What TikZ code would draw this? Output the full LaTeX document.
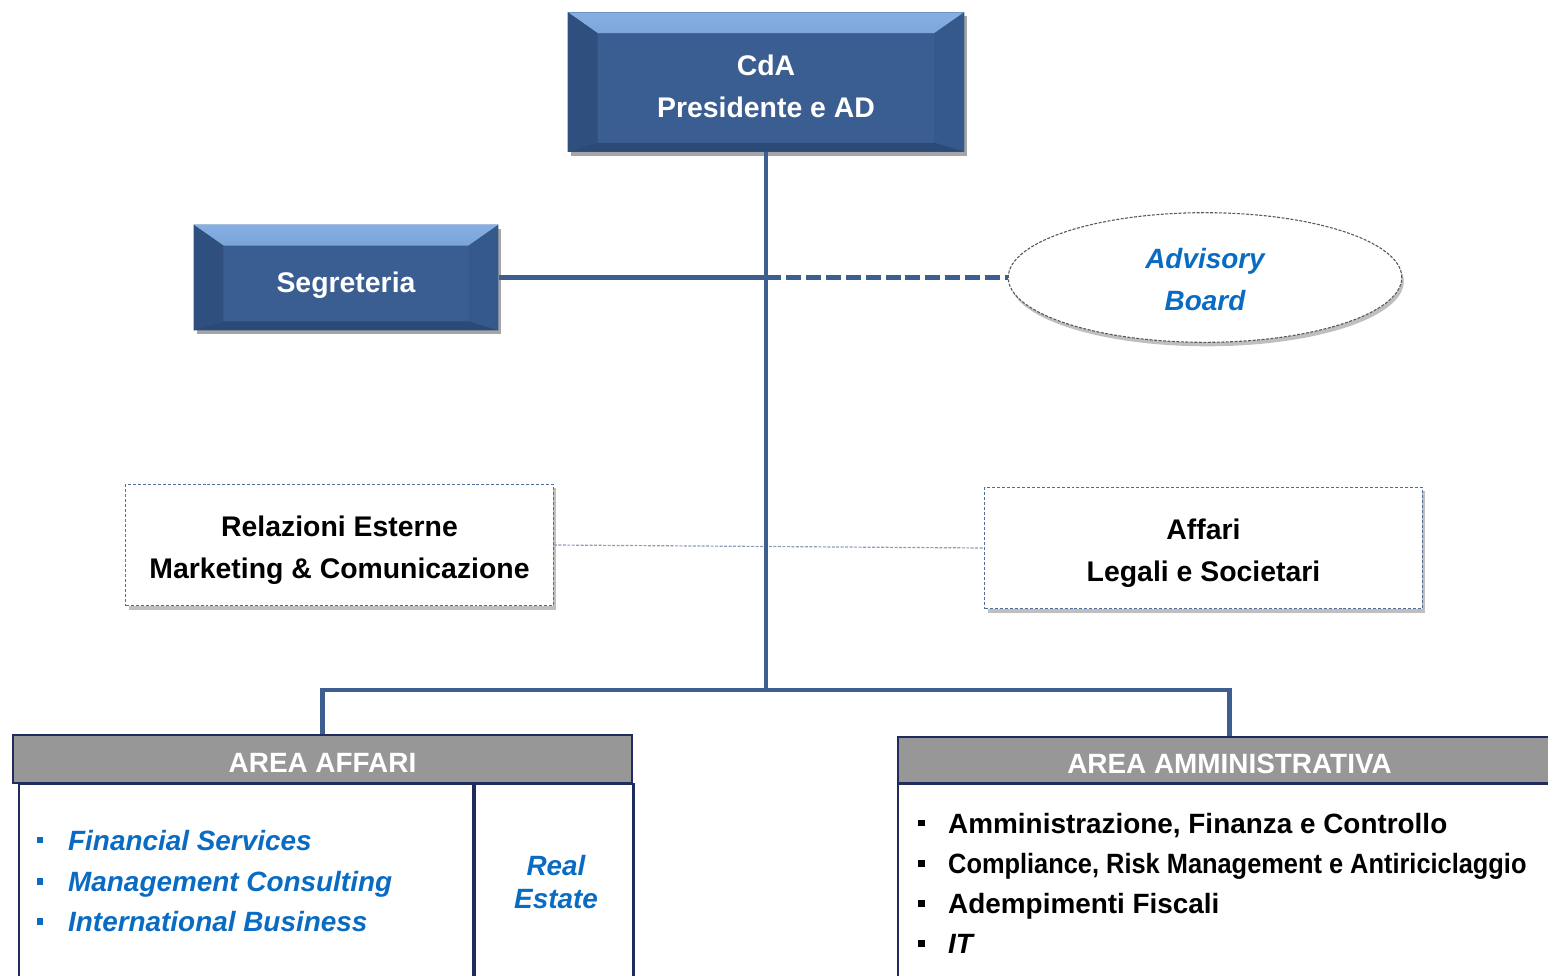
\documentclass[tikz,border=0pt]{standalone}
\usepackage{fontspec}
\setmainfont{Liberation Sans}
\usetikzlibrary{shadows,shapes.geometric}

\definecolor{bmain}{HTML}{3B5E92}
\definecolor{btop}{HTML}{86B0E4}
\definecolor{btop2}{HTML}{4C73A9}
\definecolor{bleft}{HTML}{2F4F7F}
\definecolor{bright}{HTML}{35598B}
\definecolor{bbot}{HTML}{2C4A77}
\definecolor{linec}{HTML}{3D5F90}
\definecolor{navy}{HTML}{1F2D5E}
\definecolor{hgray}{HTML}{979797}
\definecolor{tblue}{HTML}{0A6BC2}
\definecolor{dashc}{HTML}{4F6E9C}
\definecolor{thinc}{HTML}{8C9CB9}

% two centred lines; extra height #1 pushes the text down by #1/2
\newcommand{\twolines}[3]{\raisebox{0pt}[\dimexpr\height+#1\relax][\depth]{\begin{tabular}{@{}c@{}}#2\\#3\end{tabular}}}

\tikzset{
  bevel/.style={rectangle, inner sep=0pt, fill=bmain, text=white,
    font=\bfseries\fontsize{28.5}{42}\selectfont,
    drop shadow={shadow xshift=3pt, shadow yshift=-4pt, opacity=0.35, fill=black},
    path picture={
      \fill[top color=btop, bottom color=btop2]
        (path picture bounding box.north west) -- (path picture bounding box.north east)
        -- ([xshift=-30pt,yshift=-21pt]path picture bounding box.north east)
        -- ([xshift=30pt,yshift=-21pt]path picture bounding box.north west) -- cycle;
      \fill[bleft]
        (path picture bounding box.north west)
        -- ([xshift=30pt,yshift=-21pt]path picture bounding box.north west)
        -- ([xshift=30pt,yshift=9pt]path picture bounding box.south west)
        -- (path picture bounding box.south west) -- cycle;
      \fill[bright]
        (path picture bounding box.north east)
        -- ([xshift=-30pt,yshift=-21pt]path picture bounding box.north east)
        -- ([xshift=-30pt,yshift=9pt]path picture bounding box.south east)
        -- (path picture bounding box.south east) -- cycle;
      \fill[bbot]
        (path picture bounding box.south west)
        -- ([xshift=30pt,yshift=9pt]path picture bounding box.south west)
        -- ([xshift=-30pt,yshift=9pt]path picture bounding box.south east)
        -- (path picture bounding box.south east) -- cycle;
    }},
  dbox/.style={rectangle, draw=dashc, line width=1.2pt, dash pattern=on 3pt off 2pt,
    fill=white, inner sep=0pt,
    font=\bfseries\fontsize{28.5}{42}\selectfont,
    drop shadow={shadow xshift=3pt, shadow yshift=-4pt, opacity=0.25, fill=black}},
  advbox/.style={ellipse, draw=black!65, line width=1.1pt, dash pattern=on 3pt off 1.5pt,
    fill=white, inner sep=0pt, text=tblue,
    font=\bfseries\itshape\fontsize{28}{42}\selectfont,
    drop shadow={shadow xshift=2pt, shadow yshift=-4pt, opacity=0.25, fill=black}},
  mainline/.style={draw=linec, line width=4.8pt},
  dline/.style={draw=linec, line width=4.8pt, dash pattern=on 15pt off 5pt},
  thinline/.style={draw=thinc, line width=1.2pt, dash pattern=on 3pt off 1.5pt},
  areahead/.style={rectangle, fill=hgray, draw=navy, line width=2.2pt, inner sep=0pt,
    text=white, font=\bfseries\fontsize{28}{30}\selectfont, text depth=0pt, text height=28pt},
  areabody/.style={rectangle, draw=navy, line width=2.2pt, inner sep=0pt, anchor=north west},
  bitem/.style={anchor=base west, inner sep=0pt, text=tblue, font=\bfseries\itshape\fontsize{28}{30}\selectfont},
  kitem/.style={anchor=base west, inner sep=0pt, text=black, font=\bfseries\fontsize{28}{30}\selectfont},
  bbul/.style={rectangle, fill=tblue, minimum size=7pt, inner sep=0pt},
  kbul/.style={rectangle, fill=black, minimum size=7pt, inner sep=0pt},
}

\begin{document}
\begin{tikzpicture}[x=1bp, y=-1bp]
\useasboundingbox (0,0) rectangle (1548,975);
\clip (0,0) rectangle (1548,975);

\coordinate (bus) at (766,690);
\coordinate (jseg) at (766,277.5);

% nodes
\node[bevel, minimum width=398pt, minimum height=140pt] (cda) at (766,82) {\twolines{12pt}{CdA}{Presidente e AD}};
\node[bevel, text depth=0pt, text height=30pt, minimum width=306pt, minimum height=106pt] (seg) at (346,277.5) {Segreteria};
\node[advbox, minimum width=395pt, minimum height=130pt] (adv) at (1205,277.5) {\twolines{8pt}{Advisory}{Board}};
\node[dbox, minimum width=429pt, minimum height=122pt] (rel) at (339.5,545) {\twolines{8pt}{Relazioni Esterne}{Marketing \& Comunicazione}};
\node[dbox, minimum width=439pt, minimum height=122pt] (aff) at (1203.5,548) {\twolines{8pt}{Affari}{Legali e Societari}};

\node[areahead, minimum width=621pt, minimum height=48pt] (ha) at (322.5,759) {AREA AFFARI};
\node[areahead, minimum width=665pt, minimum height=46pt] (hb) at (1229.5,760) {AREA AMMINISTRATIVA};

\node[areabody, minimum width=456pt, minimum height=230pt] (ba1) at (18,783) {};
\node[areabody, minimum width=159pt, minimum height=230pt] (ba2) at (474,783) {};
\node[areabody, minimum width=680pt, minimum height=230pt] (bb) at (897,783) {};

% connectors
\draw[thinline] (rel.east) -- (aff.west);
\draw[mainline] (cda.south) -- (bus);
\draw[mainline] (seg.east) -- (jseg);
\draw[dline] (jseg) -- (adv.west);
\draw[mainline] (ha.north) |- (bus) -| (hb.north);

% area affari content
\node[bbul] (b1) at (40,840) {};
\node[bbul] (b2) at (40,881) {};
\node[bbul] (b3) at (40,921) {};
\node[bitem] (i1) at (68,850) {Financial Services};
\node[bitem] (i2) at (68,891) {Management Consulting};
\node[bitem] (i3) at (68,931) {International Business};
\node[align=center, inner sep=0pt, text=tblue, font=\bfseries\itshape\fontsize{28}{33}\selectfont] (re) at (556,882) {Real\\Estate};

% area amministrativa content
\node[kbul] (k1) at (921,823) {};
\node[kbul] (k2) at (921,863) {};
\node[kbul] (k3) at (921,903) {};
\node[kbul] (k4) at (921,943) {};
\node[kitem] (t1) at (948,833) {Amministrazione, Finanza e Controllo};
\node[kitem] (t2) at (948,873) {\scalebox{0.91}[1]{Compliance, Risk Management e Antiriciclaggio}};
\node[kitem] (t3) at (948,913) {Adempimenti Fiscali};
\node[kitem, font=\bfseries\itshape\fontsize{28}{30}\selectfont] (t4) at (948,953) {IT};
\end{tikzpicture}
\end{document}
